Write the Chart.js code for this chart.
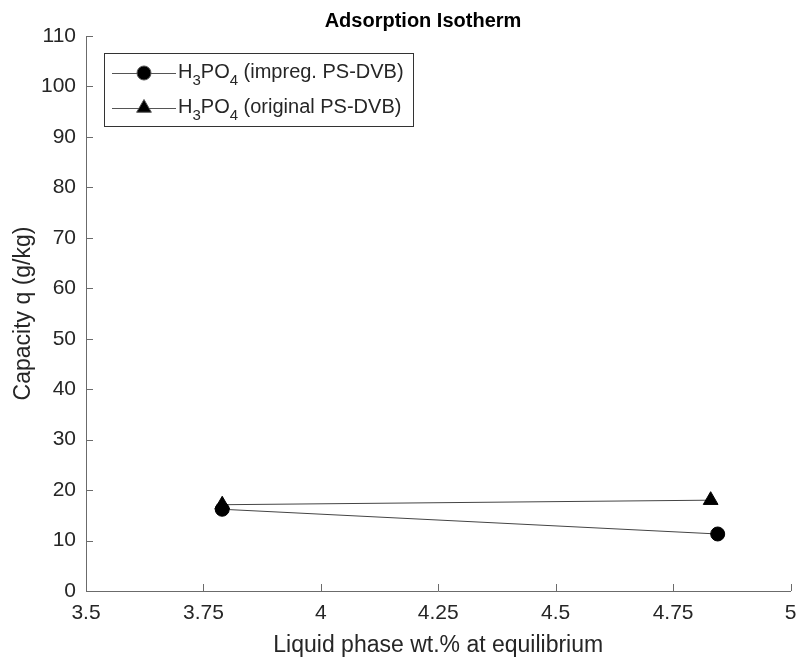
<!DOCTYPE html>
<html>
<head>
<meta charset="utf-8">
<script src="https://cdn.jsdelivr.net/npm/chart.js@4/dist/chart.umd.min.js"></script>
<style>
  html, body { margin: 0; padding: 0; background: #fff; }
  #wrap { width: 800px; height: 657px; }
</style>
</head>
<body>
<div id="wrap"><canvas id="isotherm" width="800" height="657"></canvas></div>
<script>
// equilibrium liquid phase concentration (wt.%) and capacity q (g/kg)
const impregX = [3.79, 4.845];
const impregQ = [16.2, 11.3];
const originalX = [3.79, 4.83];
const originalQ = [17.1, 18.0];

const xTicks = [3.5, 3.75, 4, 4.25, 4.5, 4.75, 5];
const yTicks = [0, 10, 20, 30, 40, 50, 60, 70, 80, 90, 100, 110];

const FONT = "'Liberation Sans', Arial, Helvetica, sans-serif";
const AXIS = '#6b6b6b';
const TEXT = '#262626';

const toPoints = (xs, ys) => xs.map((x, i) => ({ x: x, y: ys[i] }));

// legend rows: marker style and the text after the formula
const legendRows = [
  { style: 'circle', radius: 7, rest: ' (impreg. PS-DVB)' },
  { style: 'triangle', radius: 8.5, rest: ' (original PS-DVB)' }
];

// draws "H3PO4" with subscripts on a baseline, returns the x where it stopped
function drawFormula(ctx, x, y) {
  const big = '20px ' + FONT, small = '15px ' + FONT;
  const parts = [['H', big, 0], ['3', small, 7], ['PO', big, 0], ['4', small, 7]];
  parts.forEach(p => {
    ctx.font = p[1];
    ctx.fillText(p[0], x, y + p[2]);
    x += ctx.measureText(p[0]).width;
  });
  return x;
}

const decorations = {
  id: 'decorations',
  afterDraw(chart) {
    const ctx = chart.ctx;
    const xs = chart.scales.x, ys = chart.scales.y;
    const area = chart.chartArea;
    ctx.save();

    // inward tick marks
    ctx.strokeStyle = AXIS;
    ctx.lineWidth = 1;
    ctx.beginPath();
    xTicks.forEach(v => {
      const px = Math.round(xs.getPixelForValue(v)) + 0.5;
      ctx.moveTo(px, area.bottom);
      ctx.lineTo(px, area.bottom - 7);
    });
    yTicks.forEach(v => {
      const py = Math.round(ys.getPixelForValue(v)) + 0.5;
      ctx.moveTo(area.left, py);
      ctx.lineTo(area.left + 7, py);
    });
    ctx.stroke();

    // title and axis titles
    ctx.fillStyle = '#000';
    ctx.textAlign = 'center';
    ctx.textBaseline = 'alphabetic';
    ctx.font = 'bold 20px ' + FONT;
    ctx.fillText('Adsorption Isotherm', 423, 27);

    ctx.fillStyle = TEXT;
    ctx.font = '23px ' + FONT;
    ctx.fillText('Liquid phase wt.% at equilibrium', (area.left + area.right) / 2, 652);
    ctx.save();
    ctx.translate(24, (area.top + area.bottom) / 2);
    ctx.rotate(-Math.PI / 2);
    ctx.textBaseline = 'middle';
    ctx.fillText('Capacity q (g/kg)', 0, 0);
    ctx.restore();

    // legend box
    const bx = 104.5, by = 53.5, bw = 309, bh = 73;
    ctx.fillStyle = '#fff';
    ctx.fillRect(bx, by, bw, bh);
    ctx.strokeStyle = '#333';
    ctx.strokeRect(bx, by, bw, bh);

    legendRows.forEach((row, i) => {
      const cy = 73 + i * 35;
      ctx.strokeStyle = '#555';
      ctx.beginPath();
      ctx.moveTo(112, cy + 0.5);
      ctx.lineTo(176, cy + 0.5);
      ctx.stroke();
      ctx.fillStyle = '#000';
      Chart.helpers.drawPoint(ctx, {
        pointStyle: row.style, radius: row.radius, borderWidth: 1, rotation: 0
      }, 144, cy);
      ctx.fillStyle = TEXT;
      ctx.textAlign = 'left';
      ctx.textBaseline = 'alphabetic';
      const end = drawFormula(ctx, 178, cy + 5);
      ctx.font = '20px ' + FONT;
      ctx.fillText(row.rest, end, cy + 5);
    });

    ctx.restore();
  }
};

new Chart(document.getElementById('isotherm'), {
  type: 'scatter',
  data: {
    datasets: [
      {
        label: 'H3PO4 (impreg. PS-DVB)',
        data: toPoints(impregX, impregQ),
        showLine: true,
        borderColor: '#444',
        borderWidth: 1,
        backgroundColor: '#000',
        pointBorderColor: '#000',
        pointStyle: 'circle',
        pointRadius: 7
      },
      {
        label: 'H3PO4 (original PS-DVB)',
        data: toPoints(originalX, originalQ),
        showLine: true,
        borderColor: '#444',
        borderWidth: 1,
        backgroundColor: '#000',
        pointBorderColor: '#000',
        pointStyle: 'triangle',
        pointRadius: 8.5
      }
    ]
  },
  options: {
    responsive: false,
    animation: false,
    layout: { padding: { top: 36, right: 6, left: 0, bottom: 0 } },
    plugins: {
      legend: { display: false },
      tooltip: { enabled: false }
    },
    scales: {
      x: {
        type: 'linear',
        min: 3.5,
        max: 5,
        afterBuildTicks: s => { s.ticks = xTicks.map(v => ({ value: v })); },
        afterFit: s => {
          s.height = 66;
          s.paddingLeft = 0;
          s.paddingRight = 0;
        },
        grid: { display: false, drawTicks: false },
        border: { display: true, color: AXIS, width: 1 },
        ticks: {
          color: TEXT,
          padding: 10,
          font: { family: FONT, size: 21 },
          callback: v => String(v)
        }
      },
      y: {
        type: 'linear',
        min: 0,
        max: 110,
        afterBuildTicks: s => { s.ticks = yTicks.map(v => ({ value: v })); },
        afterFit: s => {
          s.width = 86;
          s.paddingTop = 0;
          s.paddingBottom = 0;
        },
        grid: { display: false, drawTicks: false },
        border: { display: true, color: AXIS, width: 1 },
        ticks: {
          color: TEXT,
          padding: 10,
          font: { family: FONT, size: 21 }
        }
      }
    }
  },
  plugins: [decorations]
});
</script>
</body>
</html>
